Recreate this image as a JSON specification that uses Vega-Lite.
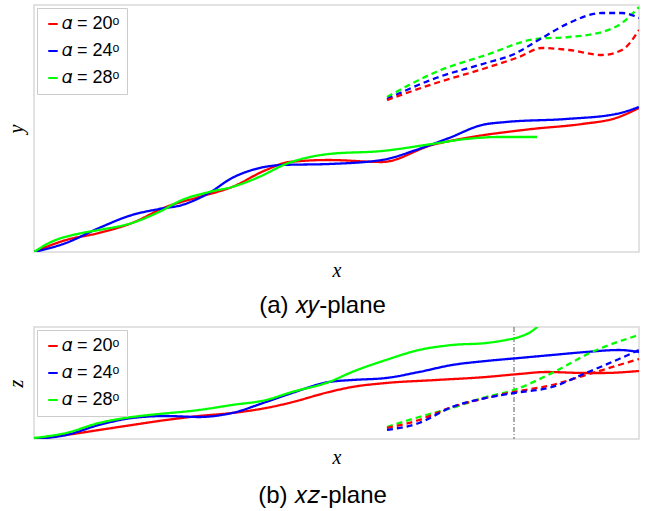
{
  "$schema": "https://vega.github.io/schema/vega-lite/v6.json",
  "padding": {"left": 5, "top": 4, "right": 5, "bottom": 0},
  "background": "white",
  "config": {
    "view": {"stroke": "#d9d9d9", "strokeWidth": 1.5},
    "axis": {"ticks": false, "labels": false, "grid": false, "domain": false, "titleFont": "Liberation Serif", "titleFontStyle": "italic", "titleFontSize": 20, "titleFontWeight": "normal", "titleColor": "#000", "titlePadding": 8},
    "legend": {"orient": "top-left", "offset": 3, "padding": 7, "strokeColor": "#cccccc", "fillColor": "white", "labelFont": "Liberation Sans", "labelFontSize": 18, "labelColor": "#000", "symbolType": "stroke", "symbolSize": 90, "symbolStrokeWidth": 2, "rowPadding": 9, "labelOffset": 0, "title": null},
    "title": {"orient": "bottom", "font": "Liberation Sans", "fontSize": 24, "fontWeight": "normal", "anchor": "middle", "frame": "bounds", "offset": 15, "color": "#000"},
    "concat": {"spacing": 6}
  },
  "datasets": {
    "xy": [
      {"a": 20, "s": "solid", "x": 0, "y": 0}, {"a": 20, "s": "solid", "x": 32, "y": 12}, {"a": 20, "s": "solid", "x": 65, "y": 19}, {"a": 20, "s": "solid", "x": 98, "y": 29}, {"a": 20, "s": "solid", "x": 132, "y": 45}, {"a": 20, "s": "solid", "x": 165, "y": 55}, {"a": 20, "s": "solid", "x": 198, "y": 65}, {"a": 20, "s": "solid", "x": 232, "y": 82}, {"a": 20, "s": "solid", "x": 255, "y": 90}, {"a": 20, "s": "solid", "x": 295, "y": 92}, {"a": 20, "s": "solid", "x": 348, "y": 90}, {"a": 20, "s": "solid", "x": 398, "y": 107}, {"a": 20, "s": "solid", "x": 432, "y": 114}, {"a": 20, "s": "solid", "x": 498, "y": 123}, {"a": 20, "s": "solid", "x": 548, "y": 128}, {"a": 20, "s": "solid", "x": 582, "y": 134}, {"a": 20, "s": "solid", "x": 605, "y": 144},
      {"a": 24, "s": "solid", "x": 0, "y": 0}, {"a": 24, "s": "solid", "x": 32, "y": 9}, {"a": 24, "s": "solid", "x": 65, "y": 24}, {"a": 24, "s": "solid", "x": 98, "y": 37}, {"a": 24, "s": "solid", "x": 125, "y": 43}, {"a": 24, "s": "solid", "x": 148, "y": 47}, {"a": 24, "s": "solid", "x": 175, "y": 59}, {"a": 24, "s": "solid", "x": 198, "y": 74}, {"a": 24, "s": "solid", "x": 218, "y": 82}, {"a": 24, "s": "solid", "x": 248, "y": 87}, {"a": 24, "s": "solid", "x": 295, "y": 88}, {"a": 24, "s": "solid", "x": 348, "y": 92}, {"a": 24, "s": "solid", "x": 382, "y": 102}, {"a": 24, "s": "solid", "x": 415, "y": 114}, {"a": 24, "s": "solid", "x": 448, "y": 127}, {"a": 24, "s": "solid", "x": 472, "y": 130}, {"a": 24, "s": "solid", "x": 532, "y": 133}, {"a": 24, "s": "solid", "x": 582, "y": 138}, {"a": 24, "s": "solid", "x": 605, "y": 145},
      {"a": 28, "s": "solid", "x": 0, "y": 0}, {"a": 28, "s": "solid", "x": 15, "y": 9}, {"a": 28, "s": "solid", "x": 48, "y": 19}, {"a": 28, "s": "solid", "x": 65, "y": 22}, {"a": 28, "s": "solid", "x": 98, "y": 29}, {"a": 28, "s": "solid", "x": 125, "y": 40}, {"a": 28, "s": "solid", "x": 148, "y": 52}, {"a": 28, "s": "solid", "x": 175, "y": 60}, {"a": 28, "s": "solid", "x": 198, "y": 65}, {"a": 28, "s": "solid", "x": 225, "y": 75}, {"a": 28, "s": "solid", "x": 252, "y": 88}, {"a": 28, "s": "solid", "x": 295, "y": 98}, {"a": 28, "s": "solid", "x": 348, "y": 101}, {"a": 28, "s": "solid", "x": 398, "y": 108}, {"a": 28, "s": "solid", "x": 432, "y": 113}, {"a": 28, "s": "solid", "x": 465, "y": 115}, {"a": 28, "s": "solid", "x": 503, "y": 115},
      {"a": 28, "s": "dashed", "x": 353, "y": 155}, {"a": 28, "s": "dashed", "x": 402, "y": 180}, {"a": 28, "s": "dashed", "x": 452, "y": 197}, {"a": 28, "s": "dashed", "x": 502, "y": 213}, {"a": 28, "s": "dashed", "x": 535, "y": 215}, {"a": 28, "s": "dashed", "x": 568, "y": 220}, {"a": 28, "s": "dashed", "x": 588, "y": 229}, {"a": 28, "s": "dashed", "x": 605, "y": 245},
      {"a": 24, "s": "dashed", "x": 353, "y": 153}, {"a": 24, "s": "dashed", "x": 402, "y": 174}, {"a": 24, "s": "dashed", "x": 452, "y": 189}, {"a": 24, "s": "dashed", "x": 478, "y": 197}, {"a": 24, "s": "dashed", "x": 508, "y": 214}, {"a": 24, "s": "dashed", "x": 535, "y": 229}, {"a": 24, "s": "dashed", "x": 568, "y": 239}, {"a": 24, "s": "dashed", "x": 588, "y": 239}, {"a": 24, "s": "dashed", "x": 605, "y": 234},
      {"a": 20, "s": "dashed", "x": 353, "y": 152}, {"a": 20, "s": "dashed", "x": 402, "y": 169}, {"a": 20, "s": "dashed", "x": 452, "y": 184}, {"a": 20, "s": "dashed", "x": 485, "y": 195}, {"a": 20, "s": "dashed", "x": 508, "y": 204}, {"a": 20, "s": "dashed", "x": 535, "y": 202}, {"a": 20, "s": "dashed", "x": 568, "y": 197}, {"a": 20, "s": "dashed", "x": 588, "y": 202}, {"a": 20, "s": "dashed", "x": 605, "y": 222}
    ],
    "xz": [
      {"a": 20, "s": "solid", "x": 0, "z": 0}, {"a": 20, "s": "solid", "x": 32, "z": 4}, {"a": 20, "s": "solid", "x": 65, "z": 9}, {"a": 20, "s": "solid", "x": 98, "z": 14}, {"a": 20, "s": "solid", "x": 132, "z": 19}, {"a": 20, "s": "solid", "x": 165, "z": 23}, {"a": 20, "s": "solid", "x": 198, "z": 26}, {"a": 20, "s": "solid", "x": 232, "z": 31}, {"a": 20, "s": "solid", "x": 255, "z": 36}, {"a": 20, "s": "solid", "x": 295, "z": 47}, {"a": 20, "s": "solid", "x": 318, "z": 52}, {"a": 20, "s": "solid", "x": 352, "z": 56}, {"a": 20, "s": "solid", "x": 402, "z": 59}, {"a": 20, "s": "solid", "x": 452, "z": 62}, {"a": 20, "s": "solid", "x": 485, "z": 65}, {"a": 20, "s": "solid", "x": 512, "z": 67}, {"a": 20, "s": "solid", "x": 552, "z": 66}, {"a": 20, "s": "solid", "x": 568, "z": 66}, {"a": 20, "s": "solid", "x": 605, "z": 68},
      {"a": 24, "s": "solid", "x": 0, "z": 0}, {"a": 24, "s": "solid", "x": 32, "z": 4}, {"a": 24, "s": "solid", "x": 65, "z": 14}, {"a": 24, "s": "solid", "x": 98, "z": 21}, {"a": 24, "s": "solid", "x": 132, "z": 23}, {"a": 24, "s": "solid", "x": 165, "z": 22}, {"a": 24, "s": "solid", "x": 198, "z": 26}, {"a": 24, "s": "solid", "x": 232, "z": 37}, {"a": 24, "s": "solid", "x": 258, "z": 46}, {"a": 24, "s": "solid", "x": 295, "z": 57}, {"a": 24, "s": "solid", "x": 318, "z": 59}, {"a": 24, "s": "solid", "x": 352, "z": 61}, {"a": 24, "s": "solid", "x": 385, "z": 67}, {"a": 24, "s": "solid", "x": 418, "z": 74}, {"a": 24, "s": "solid", "x": 452, "z": 78}, {"a": 24, "s": "solid", "x": 485, "z": 81}, {"a": 24, "s": "solid", "x": 518, "z": 84}, {"a": 24, "s": "solid", "x": 552, "z": 87}, {"a": 24, "s": "solid", "x": 585, "z": 89}, {"a": 24, "s": "solid", "x": 605, "z": 87},
      {"a": 28, "s": "solid", "x": 0, "z": 1}, {"a": 28, "s": "solid", "x": 32, "z": 6}, {"a": 28, "s": "solid", "x": 65, "z": 16}, {"a": 28, "s": "solid", "x": 98, "z": 22}, {"a": 28, "s": "solid", "x": 115, "z": 24}, {"a": 28, "s": "solid", "x": 165, "z": 29}, {"a": 28, "s": "solid", "x": 198, "z": 34}, {"a": 28, "s": "solid", "x": 232, "z": 39}, {"a": 28, "s": "solid", "x": 258, "z": 47}, {"a": 28, "s": "solid", "x": 295, "z": 57}, {"a": 28, "s": "solid", "x": 318, "z": 67}, {"a": 28, "s": "solid", "x": 352, "z": 79}, {"a": 28, "s": "solid", "x": 385, "z": 89}, {"a": 28, "s": "solid", "x": 418, "z": 94}, {"a": 28, "s": "solid", "x": 452, "z": 96}, {"a": 28, "s": "solid", "x": 472, "z": 99}, {"a": 28, "s": "solid", "x": 485, "z": 102}, {"a": 28, "s": "solid", "x": 502, "z": 111}, {"a": 28, "s": "solid", "x": 506, "z": 115},
      {"a": 28, "s": "dashed", "x": 353, "z": 12}, {"a": 28, "s": "dashed", "x": 385, "z": 22}, {"a": 28, "s": "dashed", "x": 418, "z": 31}, {"a": 28, "s": "dashed", "x": 452, "z": 42}, {"a": 28, "s": "dashed", "x": 480, "z": 49}, {"a": 28, "s": "dashed", "x": 518, "z": 66}, {"a": 28, "s": "dashed", "x": 558, "z": 87}, {"a": 28, "s": "dashed", "x": 605, "z": 104},
      {"a": 20, "s": "dashed", "x": 353, "z": 11}, {"a": 20, "s": "dashed", "x": 385, "z": 19}, {"a": 20, "s": "dashed", "x": 418, "z": 32}, {"a": 20, "s": "dashed", "x": 452, "z": 41}, {"a": 20, "s": "dashed", "x": 480, "z": 47}, {"a": 20, "s": "dashed", "x": 518, "z": 54}, {"a": 20, "s": "dashed", "x": 552, "z": 64}, {"a": 20, "s": "dashed", "x": 585, "z": 74}, {"a": 20, "s": "dashed", "x": 605, "z": 80},
      {"a": 24, "s": "dashed", "x": 353, "z": 9}, {"a": 24, "s": "dashed", "x": 385, "z": 16}, {"a": 24, "s": "dashed", "x": 418, "z": 32}, {"a": 24, "s": "dashed", "x": 452, "z": 41}, {"a": 24, "s": "dashed", "x": 480, "z": 46}, {"a": 24, "s": "dashed", "x": 518, "z": 52}, {"a": 24, "s": "dashed", "x": 552, "z": 66}, {"a": 24, "s": "dashed", "x": 585, "z": 80}, {"a": 24, "s": "dashed", "x": 605, "z": 89}
    ],
    "cut": [{"x": 480}]
  },
  "resolve": {"scale": {"color": "independent", "strokeDash": "independent"}, "legend": {"color": "independent"}},
  "vconcat": [
    {
      "width": 605,
      "height": 247,
      "title": {"text": "(a) 𝑥𝑦-plane", "offset": 14},
      "data": {"name": "xy"},
      "mark": {"type": "line", "strokeWidth": 2.3, "interpolate": "monotone", "clip": true},
      "encoding": {
        "x": {"field": "x", "type": "quantitative", "scale": {"domain": [0, 605], "nice": false, "zero": false}, "title": "x"},
        "y": {"field": "y", "type": "quantitative", "scale": {"domain": [0, 247], "nice": false, "zero": false}, "title": "y"},
        "color": {"field": "a", "type": "nominal", "scale": {"domain": [20, 24, 28], "range": ["#ff0000", "#0000ff", "#00ff00"]}, "legend": {"labelExpr": "'𝛼 = ' + datum.label + 'ᵒ'"}},
        "strokeDash": {"field": "s", "type": "nominal", "scale": {"domain": ["solid", "dashed"], "range": [[1, 0], [6, 4]]}, "legend": null}
      }
    },
    {
      "width": 605,
      "height": 112,
      "title": {"text": "(b) 𝑥𝑧-plane", "offset": 17},
      "layer": [
        {
          "data": {"name": "cut"},
          "mark": {"type": "rule", "color": "#777777", "strokeWidth": 1.2, "strokeDash": [5, 2, 1, 2]},
          "encoding": {"x": {"field": "x", "type": "quantitative"}}
        },
        {
          "data": {"name": "xz"},
          "mark": {"type": "line", "strokeWidth": 2.3, "interpolate": "monotone", "clip": true},
          "encoding": {
            "x": {"field": "x", "type": "quantitative", "scale": {"domain": [0, 605], "nice": false, "zero": false}, "title": "x"},
            "y": {"field": "z", "type": "quantitative", "scale": {"domain": [0, 112], "nice": false, "zero": false}, "title": "z"},
            "color": {"field": "a", "type": "nominal", "scale": {"domain": [20, 24, 28], "range": ["#ff0000", "#0000ff", "#00ff00"]}, "legend": {"labelExpr": "'𝛼 = ' + datum.label + 'ᵒ'"}},
            "strokeDash": {"field": "s", "type": "nominal", "scale": {"domain": ["solid", "dashed"], "range": [[1, 0], [6, 4]]}, "legend": null}
          }
        }
      ]
    }
  ]
}
